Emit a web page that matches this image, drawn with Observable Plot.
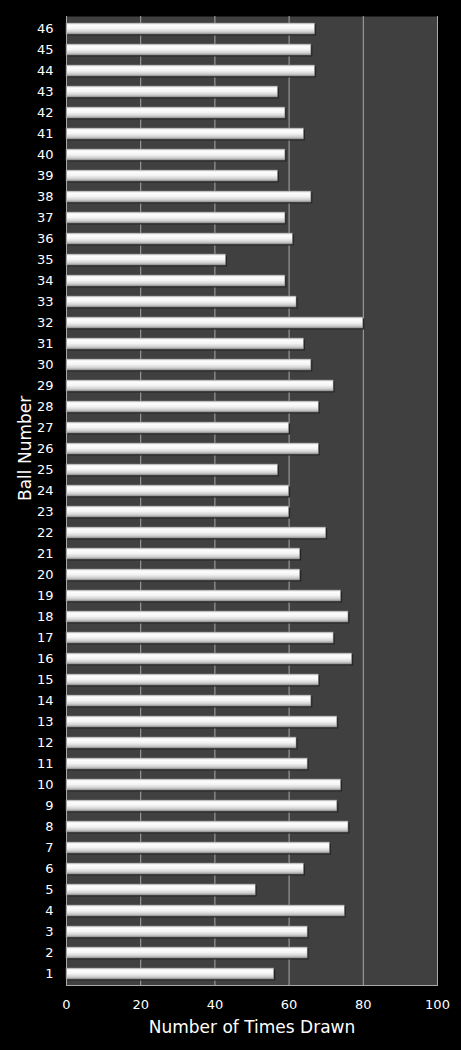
<!DOCTYPE html>
<html>
<head>
<meta charset="utf-8">
<script src="https://cdn.jsdelivr.net/npm/d3@7"></script>
<script src="https://cdn.jsdelivr.net/npm/@observablehq/plot@0.6"></script>
<style>
  html, body { margin: 0; padding: 0; background: #000; }
  #chart svg { display: block; }
</style>
</head>
<body>
<div id="chart"></div>
<script>
const balls = ["1","2","3","4","5","6","7","8","9","10","11","12","13","14","15","16","17","18","19","20","21","22","23","24","25","26","27","28","29","30","31","32","33","34","35","36","37","38","39","40","41","42","43","44","45","46"];
const timesDrawn = [56,65,65,75,51,64,71,76,73,74,65,62,73,66,68,77,72,76,74,63,63,70,60,60,57,68,60,68,72,66,64,80,62,59,43,61,59,66,57,59,64,59,57,67,66,67];
const xTicks = [0,20,40,60,80,100];
const xLabel = "Number of Times Drawn";
const yLabel = "Ball Number";

const data = balls.map((b, i) => ({ball: b, value: timesDrawn[i]}));

const plot = Plot.plot({
  width: 461,
  height: 1050,
  marginLeft: 66,
  marginRight: 24,
  marginTop: 16,
  marginBottom: 65,
  style: {background: "#000", color: "#fff", fontFamily: "DejaVu Sans, Verdana, sans-serif", fontSize: "13px"},
  x: {domain: [0, 100], label: null},
  y: {domain: balls.slice().reverse(), label: null, paddingInner: 0.48, paddingOuter: 0.24},
  marks: [
    Plot.frame({fill: "#404040", stroke: null}),
    Plot.gridX(xTicks, {stroke: "#a8a8a8", strokeOpacity: 1, strokeWidth: 1}),
    Plot.frame({anchor: "bottom", stroke: "#a8a8a8"}),
    Plot.barX(data, {x: "value", y: "ball", fill: "#262626", dx: 1.5, dy: 1.5}),
    Plot.barX(data, {x: "value", y: "ball", fill: "url(#barGrad)", stroke: "#8a8a8a", strokeWidth: 0.5}),
    Plot.ruleX([0], {stroke: "#a8a8a8"}),
    Plot.axisX(xTicks, {tickSize: 0, tickPadding: 14, label: null, fontSize: 13}),
    Plot.axisY({tickSize: 0, tickPadding: 13, label: null, fontSize: 13}),
    Plot.text([xLabel], {frameAnchor: "bottom", dy: 47, fontSize: 17, fill: "#fff"}),
    Plot.text([yLabel], {frameAnchor: "left", dx: -41, rotate: -90, fontSize: 17, fill: "#fff"})
  ]
});

const svg = d3.select(plot);
const defs = svg.insert("defs", ":first-child");
const g = defs.append("linearGradient").attr("id", "barGrad").attr("x1", 0).attr("y1", 0).attr("x2", 0).attr("y2", 1);
[["0%", "#c4c4c4"], ["18%", "#ffffff"], ["50%", "#f4f4f4"], ["80%", "#d0d0d0"], ["100%", "#9a9a9a"]].forEach(([o, c]) => g.append("stop").attr("offset", o).attr("stop-color", c));
document.getElementById("chart").appendChild(plot);
</script>
</body>
</html>
